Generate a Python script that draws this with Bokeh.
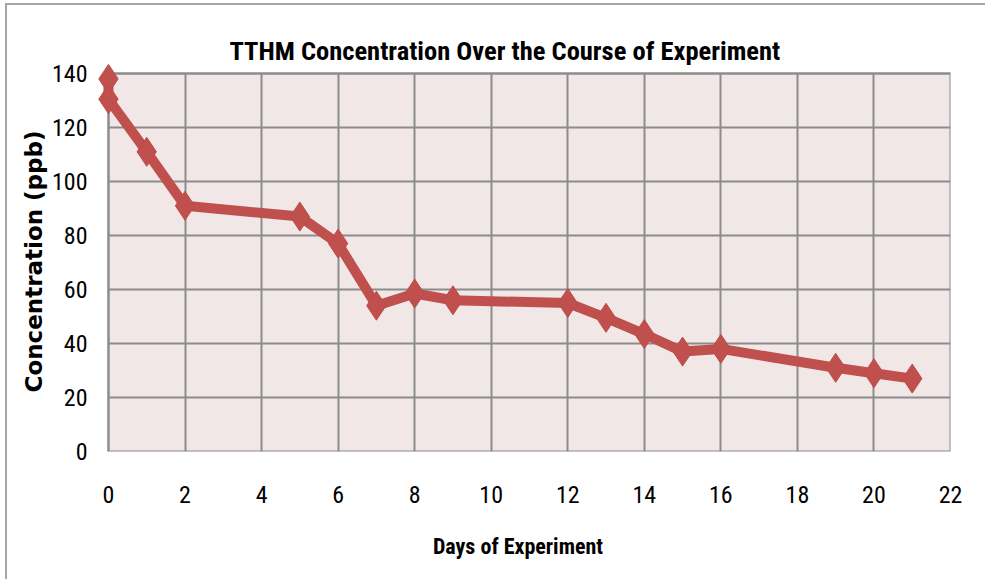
from bokeh.plotting import figure
from bokeh.embed import file_html
from bokeh.resources import INLINE
from bokeh.models import ColumnDataSource, FixedTicker, Range1d

days = [0, 0, 1, 2, 5, 6, 7, 8, 9, 12, 13, 14, 15, 16, 19, 20, 21]
tthm = [138, 130.5, 111, 91, 87, 77, 54, 58.5, 56, 55, 49.5, 43.5, 37, 38, 31, 29, 27]
x_ticks = list(range(0, 23, 2))
y_ticks = list(range(0, 141, 20))

title = "TTHM Concentration Over the Course of Experiment"
x_label = "Days of Experiment"
y_label = "Concentration  (ppb)"

X_MIN, X_MAX = 0, 22
Y_MIN, Y_MAX = 0, 140

NARROW = "Liberation Sans Narrow, Roboto Condensed, Open Sans"
RED = "#C0504D"
GRID = "#8C8C8C"
EDGE = "#A6A6A6"

src = ColumnDataSource(dict(x=days, y=tthm))

# ranges slightly padded so the end markers are not clipped by the frame
p = figure(width=985, height=579, output_backend="svg", toolbar_location=None,
           x_range=Range1d(X_MIN - 0.6, X_MAX), y_range=Range1d(Y_MIN, Y_MAX + 3.7),
           min_border_left=85, min_border_right=35, min_border_top=63, min_border_bottom=128,
           background_fill_color="white", border_fill_color=None,
           styles={"background": f"linear-gradient({EDGE},{EDGE}) 5px 3px / 2px 100% no-repeat, "
                                 f"linear-gradient({EDGE},{EDGE}) 5px 3px / 100% 2px no-repeat, white"})
p.outline_line_color = None

p.title.text = title
p.title.align = "left"
p.title.offset = 144
p.title.text_font = NARROW
p.title.text_font_style = "bold"
p.title.text_font_size = "26.5px"
p.title.text_color = "black"
p.title.standoff = -4

# pink plot area with grey frame
p.quad(left=[X_MIN], right=[X_MAX], bottom=[Y_MIN], top=[Y_MAX],
       fill_color="#F2E7E7", line_color=GRID, line_width=2, level="image")

for ax in (p.xaxis[0], p.yaxis[0]):
    ax.axis_line_color = None
    ax.major_tick_line_color = None
    ax.minor_tick_line_color = None
    ax.major_label_text_font = NARROW
    ax.major_label_text_color = "black"
    ax.axis_label_text_font_style = "bold"
    ax.axis_label_text_color = "black"

p.xaxis.ticker = FixedTicker(ticks=x_ticks)
p.yaxis.ticker = FixedTicker(ticks=y_ticks)
p.xaxis.major_label_text_font_size = "24px"
p.yaxis.major_label_text_font_size = "24px"
p.xaxis.major_label_standoff = 28
p.yaxis.major_label_standoff = -8
p.xaxis.axis_label = x_label
p.xaxis.axis_label_text_font = NARROW
p.xaxis.axis_label_text_font_size = "22px"
p.xaxis.axis_label_standoff = 28
p.yaxis.axis_label = y_label
p.yaxis.axis_label_text_font = "DejaVu Sans"
p.yaxis.axis_label_text_font_size = "23px"
p.yaxis.axis_label_standoff = 2

p.grid.grid_line_color = GRID
p.grid.grid_line_width = 2
p.xgrid.ticker = FixedTicker(ticks=x_ticks)
p.ygrid.ticker = FixedTicker(ticks=y_ticks)
p.xgrid.cross_bounds = (Y_MIN, Y_MAX)
p.ygrid.cross_bounds = (X_MIN, X_MAX)

p.line("x", "y", source=src, line_color=RED, line_width=10, line_join="round")
p.scatter("x", "y", source=src, marker="diamond", size=29, fill_color=RED,
          line_color="#BE4B48", line_width=1)

with open("out.html", "w") as f:
    f.write(file_html(p, INLINE))
